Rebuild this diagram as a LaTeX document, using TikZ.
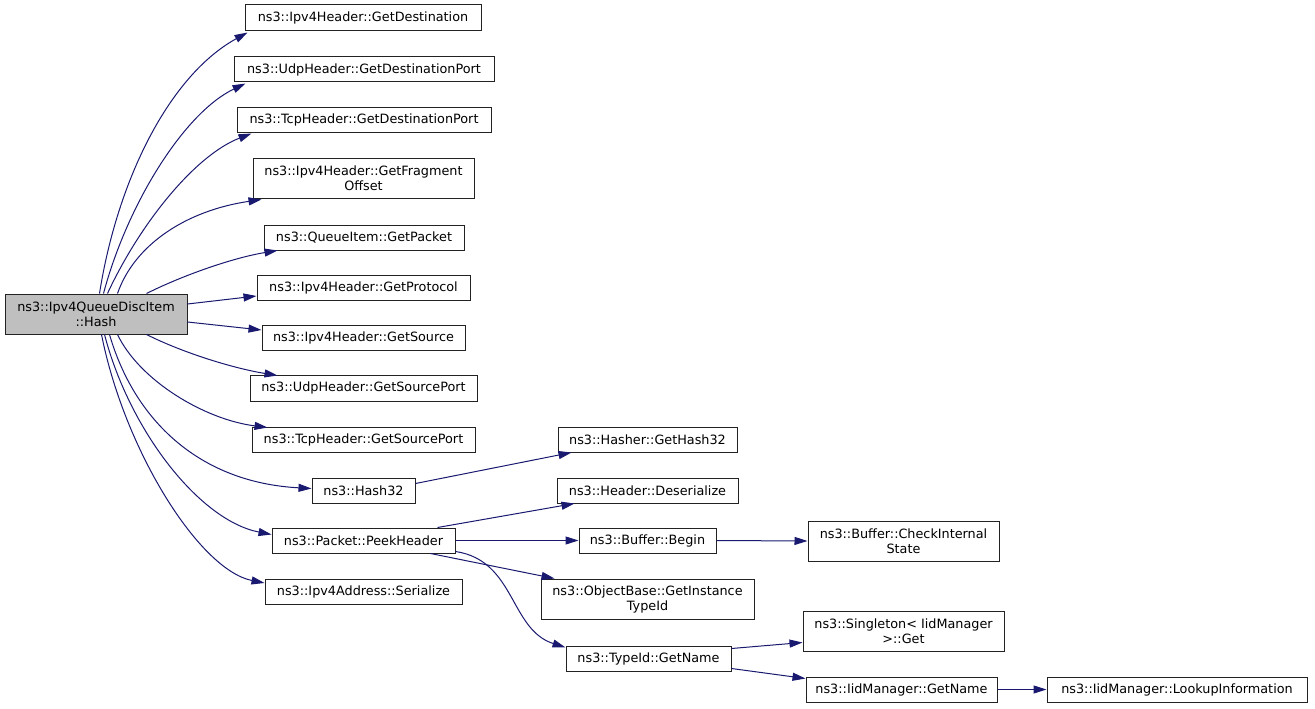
\documentclass[tikz,border=0pt]{standalone}
\usepackage{fontspec}
\setmainfont{DejaVu Sans}
\usetikzlibrary{arrows.meta}
\definecolor{edgeblue}{HTML}{191970}
\definecolor{maingray}{HTML}{BFBFBF}
\definecolor{boxborder}{HTML}{222222}
\tikzset{
  box/.style={draw=boxborder, line width=1pt, fill=white, inner sep=0pt, align=center,
    font=\fontsize{12.8}{15}\selectfont},
  mainbox/.style={box, fill=maingray},
  edge/.style={draw=edgeblue, line width=1pt, -{Triangle[length=13pt,width=8pt]}, edgeblue}
}
\begin{document}
\begin{tikzpicture}[x=1pt,y=-1pt]
\useasboundingbox (0,0) rectangle (1315,709);
% nodes
\node[mainbox, minimum width=182pt, minimum height=40pt] (main) at (96,314) {ns3::Ipv4QueueDiscItem\\::Hash};
\node[box, minimum width=236pt, minimum height=26pt] (dest) at (363,18) {ns3::Ipv4Header::GetDestination};
\node[box, minimum width=260pt, minimum height=25pt] (udpd) at (364,69.5) {ns3::UdpHeader::GetDestinationPort};
\node[box, minimum width=254pt, minimum height=25pt] (tcpd) at (364,119.5) {ns3::TcpHeader::GetDestinationPort};
\node[box, minimum width=221pt, minimum height=40pt] (frag) at (363.5,178) {ns3::Ipv4Header::GetFragment\\Offset};
\node[box, minimum width=200pt, minimum height=25pt] (pkt) at (364,237.5) {ns3::QueueItem::GetPacket};
\node[box, minimum width=213pt, minimum height=25pt] (proto) at (363.5,287.5) {ns3::Ipv4Header::GetProtocol};
\node[box, minimum width=203pt, minimum height=25pt] (src) at (363.5,337.5) {ns3::Ipv4Header::GetSource};
\node[box, minimum width=227pt, minimum height=26pt] (udps) at (363.5,388) {ns3::UdpHeader::GetSourcePort};
\node[box, minimum width=223pt, minimum height=25pt] (tcps) at (363.5,439.5) {ns3::TcpHeader::GetSourcePort};
\node[box, minimum width=103pt, minimum height=25pt] (h32) at (363.5,490.5) {ns3::Hash32};
\node[box, minimum width=183pt, minimum height=25pt] (peek) at (363.5,540.5) {ns3::Packet::PeekHeader};
\node[box, minimum width=197pt, minimum height=25pt] (ser) at (363.5,591.5) {ns3::Ipv4Address::Serialize};
\node[box, minimum width=179pt, minimum height=25pt] (gh32) at (647.5,439.5) {ns3::Hasher::GetHash32};
\node[box, minimum width=181pt, minimum height=25pt] (deser) at (647.5,490.5) {ns3::Header::Deserialize};
\node[box, minimum width=137pt, minimum height=25pt] (begin) at (647.5,540.5) {ns3::Buffer::Begin};
\node[box, minimum width=213pt, minimum height=40pt] (objb) at (647.5,599) {ns3::ObjectBase::GetInstance\\TypeId};
\node[box, minimum width=165pt, minimum height=25pt] (tid) at (648.5,658.5) {ns3::TypeId::GetName};
\node[box, minimum width=191pt, minimum height=40pt] (check) at (903.5,541) {ns3::Buffer::CheckInternal\\State};
\node[box, minimum width=201pt, minimum height=40pt] (single) at (903.5,631) {ns3::Singleton\textless{} IidManager\\\textgreater::Get};
\node[box, minimum width=191pt, minimum height=25pt] (iidn) at (901.5,689.5) {ns3::IidManager::GetName};
\node[box, minimum width=260pt, minimum height=25pt] (lookup) at (1177,689.5) {ns3::IidManager::LookupInformation};
% edges from main (top)
\draw[edge] ([xshift=95pt]main.north west) .. controls +(18,-114) and +(-78,43) .. ([xshift=3pt,yshift=-1pt]dest.south west);
\draw[edge] ([xshift=99pt]main.north west) .. controls +(24,-90) and +(-61,29) .. ([xshift=12pt,yshift=-1pt]udpd.south west);
\draw[edge] ([xshift=103pt]main.north west) .. controls +(32,-69) and +(-57,22) .. ([xshift=15pt,yshift=-1pt]tcpd.south west);
\draw[edge] ([xshift=113pt]main.north west) .. controls +(17,-49) and +(-75,11) .. ([xshift=9pt,yshift=-1pt]frag.south west);
\draw[edge] ([xshift=142pt]main.north west) .. controls +(38,-19) and +(-43,7) .. ([xshift=14pt]pkt.south west);
% side
\draw[edge] ([yshift=10pt]main.east) -- ([yshift=-8.5pt]proto.west);
\draw[edge] ([yshift=-8pt]main.east) -- ([yshift=7.5pt]src.west);
% bottom
\draw[edge] ([xshift=142pt]main.south west) .. controls +(38,19) and +(-43,-7) .. ([xshift=28pt,yshift=-1pt]udps.north west);
\draw[edge] ([xshift=113pt]main.south west) .. controls +(22,46) and +(-63,-8) .. ([xshift=16pt,yshift=-1pt]tcps.north west);
\draw[edge] ([xshift=105pt]main.south west) .. controls +(25,86) and +(-112,-6) .. ([yshift=2pt]h32.west);
\draw[edge] ([xshift=100pt]main.south west) .. controls +(25,96) and +(-72,-14) .. ([yshift=6pt]peek.west);
\draw[edge] ([xshift=97pt]main.south west) .. controls +(23,116) and +(-65,-13) .. ([yshift=8.5pt]ser.west);
% second level
\draw[edge] ([yshift=7pt]h32.east) -- ([xshift=14pt]gh32.south west);
\draw[edge] ([xshift=-18pt]peek.north east) -- ([xshift=18pt]deser.south west);
\draw[edge] (peek.east) -- (begin.west);
\draw[edge] ([xshift=-25pt]peek.south east) -- ([xshift=14pt]objb.north west);
\draw[edge] ([yshift=2pt]peek.south east) .. controls +(60,9) and +(-56,-18) .. ([yshift=-2pt]tid.north west);
\draw[edge] (begin.east) -- (check.west);
\draw[edge] ([yshift=-3pt]tid.north east) -- ([yshift=9pt]single.south west);
\draw[edge] ([yshift=3pt]tid.south east) -- ([yshift=-2pt]iidn.north west);
\draw[edge] (iidn.east) -- (lookup.west);
\end{tikzpicture}
\end{document}
